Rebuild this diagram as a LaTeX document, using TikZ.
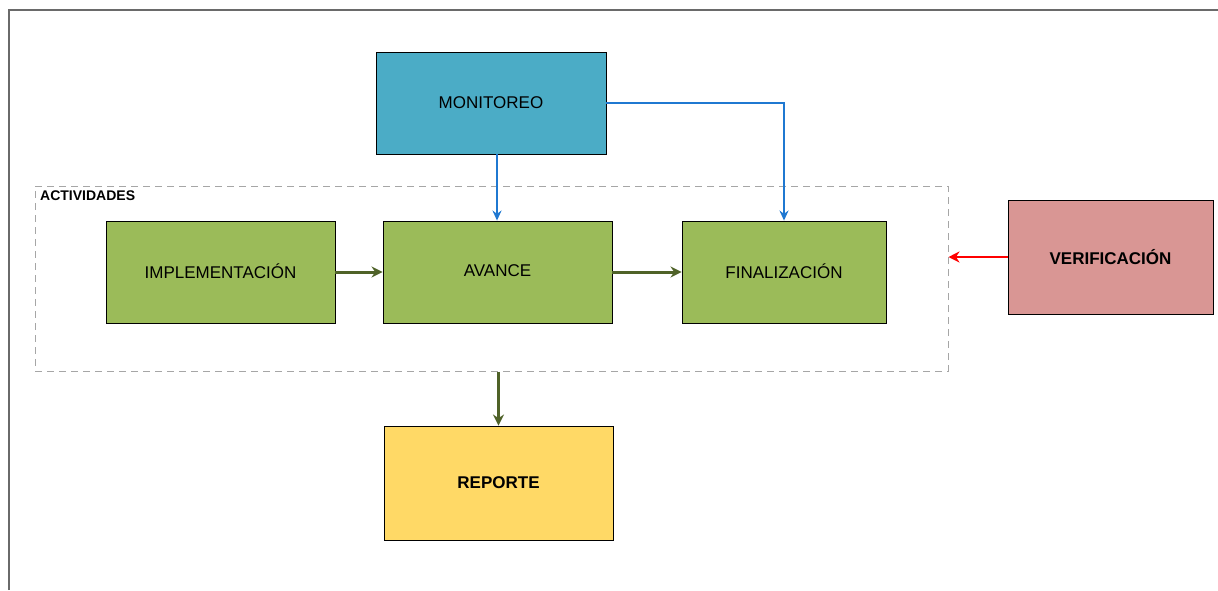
\documentclass[tikz,border=0pt]{standalone}
\usepackage{fontspec}
\setmainfont{Liberation Sans}
\usetikzlibrary{arrows.meta}
\definecolor{monblue}{HTML}{4BACC6}
\definecolor{actgreen}{HTML}{9BBB59}
\definecolor{verred}{HTML}{D99694}
\definecolor{repyellow}{HTML}{FFD966}
\definecolor{arrblue}{HTML}{1F78D1}
\definecolor{arrgreen}{HTML}{4F6228}
\definecolor{framegray}{HTML}{6A6A6A}
\tikzset{
  boxnode/.style={draw=black, line width=0.9pt, inner sep=0pt, font=\fontsize{17}{20}\selectfont},
  bluearrow/.style={draw=arrblue, line width=2.2pt, -{Stealth[length=10pt,width=9pt]}},
  greenarrow/.style={draw=arrgreen, line width=3pt, -{Stealth[length=11pt,width=11pt]}},
  redarrow/.style={draw=red, line width=2.8pt, -{Stealth[length=11pt,width=11pt]}},
}
\begin{document}
\begin{tikzpicture}[x=1pt,y=-1pt]
\useasboundingbox (0,0) rectangle (1218,590);
% frame
\draw[framegray, line width=1.6pt] (9,590) -- (9,10) -- (1218,10);
% dashed group
\node[draw=gray!70, dashed, dash pattern=on 7pt off 5pt, line width=1pt, minimum width=913pt, minimum height=185pt, inner sep=0pt] (act) at (491.5,278.5) {};
\node[anchor=north west, font=\bfseries\fontsize{14}{16}\selectfont, inner sep=0pt] (actlabel) at (40,191) {ACTIVIDADES};
% boxes
\node[boxnode, fill=monblue, minimum width=230pt, minimum height=102pt] (mon) at (491,103) {MONITOREO};
\node[boxnode, fill=actgreen, minimum width=229pt, minimum height=102pt] (imp) at (220.5,272) {\raisebox{2pt}{IMPLEMENTACIÓN}};
\node[boxnode, fill=actgreen, minimum width=229pt, minimum height=102pt] (ava) at (497.5,272) {\raisebox{2pt}{AVANCE}};
\node[boxnode, fill=actgreen, minimum width=204pt, minimum height=102pt] (fin) at (784,272) {\raisebox{2pt}{FINALIZACIÓN}};
\node[boxnode, fill=verred, minimum width=205pt, minimum height=114pt, font=\bfseries\fontsize{17}{20}\selectfont] (ver) at (1110.5,257) {\raisebox{1pt}{VERIFICACIÓN}};
\node[boxnode, fill=repyellow, minimum width=229pt, minimum height=114pt, font=\bfseries\fontsize{17}{20}\selectfont] (rep) at (498.5,483) {REPORTE};
% connectors
\coordinate (monbot) at (497,154);
\draw[bluearrow] (monbot) -- (monbot |- ava.north);
\coordinate (corner) at (mon.east -| fin.north);
\draw[bluearrow] (mon.east) -- (corner) -- (fin.north);
\draw[greenarrow] (imp.east) -- (ava.west);
\draw[greenarrow] (ava.east) -- (fin.west);
\draw[redarrow] (ver.west) -- (ver.west -| act.east);
\draw[greenarrow] (act.south -| rep.north) -- (rep.north);
\end{tikzpicture}
\end{document}
